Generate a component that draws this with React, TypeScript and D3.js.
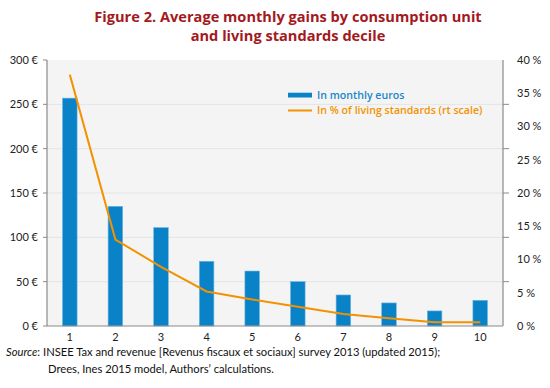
import { useEffect, useRef } from 'react';
import * as d3 from 'd3';

const deciles = ['1', '2', '3', '4', '5', '6', '7', '8', '9', '10'];
const monthlyEuros = [257, 135, 111, 73, 62, 50, 35, 26, 17, 29];
const pctLiving = [37.8, 13.0, 8.9, 5.2, 4.0, 2.9, 1.8, 1.15, 0.55, 0.55];
const euroTicks = [0, 50, 100, 150, 200, 250, 300];
const pctTicks = [0, 5, 10, 15, 20, 25, 30, 35, 40];

const BAR = '#0a82c8';
const LINE = '#f39200';
const FONT = 'Lato, "Open Sans", sans-serif';
const WIDE = '"Open Sans", Lato, sans-serif';

const App = () => {
  const svgRef = useRef<SVGSVGElement>(null);

  useEffect(() => {
    if (!svgRef.current) return;
    const svg = d3.select(svgRef.current);
    svg.selectAll('*').remove();

    const left = 47, right = 503, top = 60, bottom = 326;

    const x = d3.scaleBand().domain(deciles).range([left, right]).paddingInner(0.68).paddingOuter(0.34);
    const y = d3.scaleLinear().domain([0, 300]).range([bottom, top]);
    const y2 = d3.scaleLinear().domain([0, 40]).range([bottom, top]);

    // title
    const title = svg.append('g')
      .attr('font-family', WIDE)
      .attr('font-weight', 700)
      .attr('font-size', 14.6)
      .attr('fill', '#a3191e')
      .attr('text-anchor', 'middle');
    title.append('text').attr('x', 288).attr('y', 21.5).text('Figure 2. Average monthly gains by consumption unit');
    title.append('text').attr('x', 288).attr('y', 41).text('and living standards decile');

    // plot background
    svg.append('rect')
      .attr('x', left).attr('y', top)
      .attr('width', right - left).attr('height', bottom - top)
      .attr('fill', '#f4f4f4');

    // gridlines
    svg.append('g').selectAll('line')
      .data(euroTicks.filter(d => d > 0 && d < 300))
      .enter().append('line')
      .attr('x1', left).attr('x2', right)
      .attr('y1', d => y(d)).attr('y2', d => y(d))
      .attr('stroke', '#e4e4e4').attr('stroke-width', 1);

    // bars
    svg.append('g').selectAll('rect')
      .data(monthlyEuros)
      .enter().append('rect')
      .attr('x', (d, i) => x(deciles[i]) as number)
      .attr('y', d => y(d))
      .attr('width', x.bandwidth())
      .attr('height', d => bottom - y(d))
      .attr('fill', BAR)
      .attr('stroke', '#6fb6e2')
      .attr('stroke-width', 0.6);

    // line
    const line = d3.line<number>()
      .x((d, i) => (x(deciles[i]) as number) + x.bandwidth() / 2)
      .y(d => y2(d));
    svg.append('path')
      .datum(pctLiving)
      .attr('d', line)
      .attr('fill', 'none')
      .attr('stroke', LINE)
      .attr('stroke-width', 2);

    // axes lines
    const axisColor = '#8a8a8a';
    svg.append('line').attr('x1', left).attr('x2', left).attr('y1', top).attr('y2', bottom)
      .attr('stroke', axisColor).attr('stroke-width', 1.2);
    svg.append('line').attr('x1', right).attr('x2', right).attr('y1', top).attr('y2', bottom)
      .attr('stroke', axisColor).attr('stroke-width', 1.2);
    svg.append('line').attr('x1', left).attr('x2', right).attr('y1', bottom).attr('y2', bottom)
      .attr('stroke', axisColor).attr('stroke-width', 1.2);

    // left axis ticks & labels
    const lg = svg.append('g').attr('font-family', FONT).attr('font-size', 11).attr('fill', '#222');
    euroTicks.forEach(t => {
      lg.append('line').attr('x1', left - 4).attr('x2', left).attr('y1', y(t)).attr('y2', y(t))
        .attr('stroke', axisColor);
      lg.append('text').attr('x', 38).attr('y', y(t)).attr('dy', '0.35em')
        .attr('text-anchor', 'end').text(`${t} €`);
    });

    // right axis: tick marks at left grid positions, labels on its own scale
    const rg = svg.append('g').attr('font-family', FONT).attr('font-size', 11).attr('fill', '#222');
    euroTicks.filter(d => d > 0 && d < 300).forEach(t => {
      rg.append('line').attr('x1', right).attr('x2', right + 6).attr('y1', y(t)).attr('y2', y(t))
        .attr('stroke', axisColor);
    });
    pctTicks.forEach(t => {
      rg.append('text').attr('x', 517).attr('y', y2(t)).attr('dy', '0.35em')
        .text(`${t} %`);
    });

    // x labels
    const xg = svg.append('g').attr('font-family', FONT).attr('font-size', 11).attr('fill', '#222')
      .attr('text-anchor', 'middle');
    deciles.forEach(d => {
      xg.append('text').attr('x', (x(d) as number) + x.bandwidth() / 2).attr('y', 341).text(d);
    });

    // legend
    const leg = svg.append('g').attr('font-family', WIDE).attr('font-size', 10.6).attr('font-weight', 600);
    leg.append('rect').attr('x', 288).attr('y', 92.7).attr('width', 24).attr('height', 4.8).attr('fill', BAR);
    leg.append('text').attr('x', 317).attr('y', 98.5).attr('fill', '#1a86cc').text('In monthly euros');
    leg.append('line').attr('x1', 288).attr('x2', 312).attr('y1', 110.5).attr('y2', 110.5)
      .attr('stroke', LINE).attr('stroke-width', 2);
    leg.append('text').attr('x', 317).attr('y', 113.5).attr('fill', LINE).text('In % of living standards (rt scale)');

    // source
    const src = svg.append('g').attr('font-family', FONT).attr('font-size', 11.2).attr('fill', '#111');
    const s1 = src.append('text').attr('x', 6).attr('y', 356);
    s1.append('tspan').attr('font-style', 'italic').text('Source');
    s1.append('tspan').text(': INSEE Tax and revenue [Revenus fiscaux et sociaux] survey 2013 (updated 2015);');
    src.append('text').attr('x', 48).attr('y', 373).text('Drees, Ines 2015 model, Authors\u2019 calculations.');
  }, []);

  return (
    <svg ref={svgRef} width={550} height={388} viewBox="0 0 550 388"
      style={{ position: 'absolute', left: 0, top: 0, background: '#fff' }} />
  );
};

export default App;
